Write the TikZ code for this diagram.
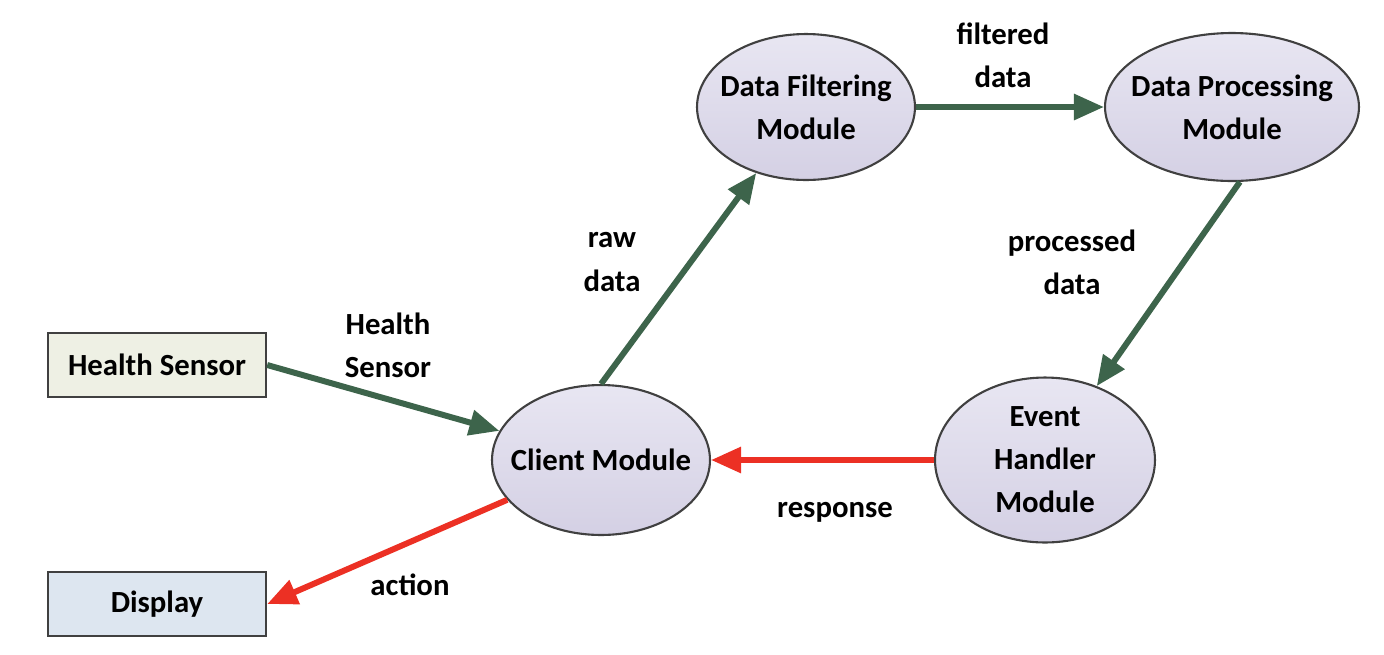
\documentclass[tikz,border=0pt]{standalone}
\usepackage{fontspec}
\setmainfont{Carlito}
\usetikzlibrary{arrows.meta, positioning, shapes.geometric}

\definecolor{flowgreen}{RGB}{61,100,75}
\definecolor{flowred}{RGB}{236,48,36}
\definecolor{sensorfill}{RGB}{238,240,228}
\definecolor{displayfill}{RGB}{221,230,240}
\definecolor{modtop}{RGB}{232,230,242}
\definecolor{modbottom}{RGB}{212,208,228}
\definecolor{edgegray}{RGB}{64,64,64}

\begin{document}
\begin{tikzpicture}[
		x=0.02cm, y=-0.02cm,
		every node/.style={font=\fontsize{17.5}{24.5}\selectfont\bfseries},
		box/.style={draw=edgegray, line width=1.4pt, align=center, minimum width=4.36cm, minimum height=1.28cm},
		module/.style={ellipse, draw=edgegray, line width=1.2pt, align=center, top color=modtop, bottom color=modbottom, inner xsep=-0.4cm, inner ysep=0pt},
		goarrow/.style={-{Triangle[length=0.6cm, width=0.5cm]}, line width=3.4pt, draw=flowgreen},
		backarrow/.style={-{Triangle[length=0.6cm, width=0.5cm]}, line width=3.4pt, draw=flowred},
		lbl/.style={align=center}
		]
		\useasboundingbox (0,0) rectangle (1384,654);
		
		% sensor and display
		\node[box, fill=sensorfill] (sensor) at (157,365) {Health Sensor};
		\node[box, fill=displayfill] (display) at (157,604) {Display};
		
		% modules
		\node[module, minimum width=4.36cm, minimum height=3.0cm] (client) at (601,460) {Client Module};
		\node[module, minimum width=4.36cm, minimum height=2.92cm] (filter) at (806,107) {Data Filtering\\Module};
		\node[module, minimum width=5.08cm, minimum height=2.96cm] (process) at (1232,107) {Data Processing\\Module};
		\node[module, minimum width=4.4cm, minimum height=3.3cm] (event) at (1045,460) {Event\\Handler\\Module};
		
		% data flow
		\draw[goarrow] (sensor.east) -- (client.164);
		\draw[goarrow] (client.90) -- (filter.233);
		\draw[goarrow] (filter.east) -- (process.west);
		\draw[goarrow] (process.276) -- (event.55);
		\draw[backarrow] (event.west) -- (client.east);
		\draw[backarrow] (client.203) -- (display.east);
		
		% labels
		\node[lbl] (lsensor) at (388,345) {Health\\Sensor};
		\node[lbl] (lraw) at (612,262) {raw\\data};
		\node[lbl] (lfilter) at (1003,55) {filtered\\data};
		\node[lbl] (lprocess) at (1072,262) {processed\\data};
		\node[lbl] (lresponse) at (835,512) {response};
		\node[lbl] (laction) at (410,585) {action};
		
	\end{tikzpicture}
\end{document}
